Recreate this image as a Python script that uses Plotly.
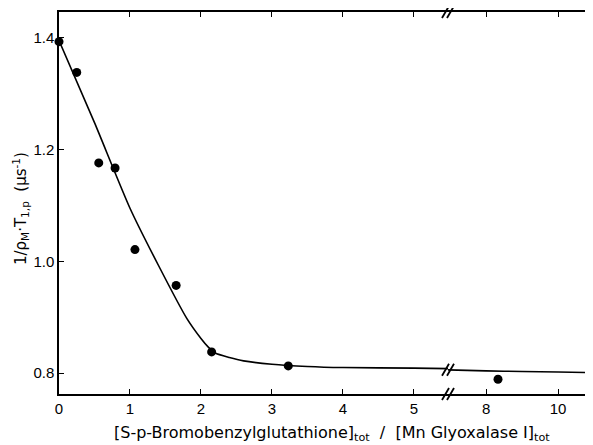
import plotly.graph_objects as go

# Measured points
pts_x_left = [0.0, 0.25, 0.56, 0.79, 1.07, 1.65, 2.15, 3.23]
pts_y_left = [1.393, 1.338, 1.176, 1.167, 1.021, 0.957, 0.838, 0.813]
pts_x_right = [8.33, 10.92]
pts_y_right = [0.789, 0.800]

# Fitted curve
curve_x_left = [0.0, 0.5, 1.0, 1.4, 1.8, 2.0, 2.1, 2.2, 2.4, 2.6, 3.0, 3.5, 4.0, 5.0, 5.5]
curve_y_left = [1.395, 1.248, 1.095, 0.993, 0.898, 0.862, 0.847, 0.836, 0.828, 0.822, 0.816, 0.812, 0.810, 0.809, 0.808]
curve_x_right = [6.9, 8.0, 9.0, 10.0, 11.0]
curve_y_right = [0.806, 0.804, 0.803, 0.802, 0.801]

x_ticks_left = [0, 1, 2, 3, 4, 5]
x_ticks_right = [8, 10]
y_ticks = [0.8, 1.0, 1.2, 1.4]
y_ticktext = ["0.8", "1.0", "1.2", "1.4"]

FONT = "Liberation Sans"
TITLE_FONT = "DejaVu Sans"
# the page body has an 8px margin; compensate so the plot lands where the reference has it
OFF = 8
W, H = 593 - OFF, 445 - OFF
ML, MR, MT = 59 - OFF, 0, 12 - OFF
MB = H - (394 - OFF)
PW = W - ML - MR
split = (448 - OFF - ML) / PW

fig = go.Figure()
line_style = dict(color="black", width=1.6, shape="spline", smoothing=0.6)
mk = dict(color="black", size=9)

fig.add_trace(go.Scatter(x=curve_x_left, y=curve_y_left, mode="lines", line=line_style,
                         xaxis="x", yaxis="y", showlegend=False, hoverinfo="skip"))
fig.add_trace(go.Scatter(x=pts_x_left, y=pts_y_left, mode="markers", marker=mk,
                         xaxis="x", yaxis="y", showlegend=False, cliponaxis=False))
fig.add_trace(go.Scatter(x=curve_x_right, y=curve_y_right, mode="lines", line=line_style,
                         xaxis="x2", yaxis="y", showlegend=False, hoverinfo="skip"))
fig.add_trace(go.Scatter(x=pts_x_right, y=pts_y_right, mode="markers", marker=mk,
                         xaxis="x2", yaxis="y", showlegend=False))

axis_common = dict(showgrid=False, zeroline=False, showline=True, linecolor="black",
                   linewidth=1.5, ticks="inside", ticklen=5, tickwidth=1.2,
                   tickcolor="black", mirror="ticks",
                   tickfont=dict(family=FONT, size=15, color="black"))

fig.update_layout(
    width=W, height=H,
    margin=dict(l=ML, r=MR, t=MT, b=MB, autoexpand=False),
    paper_bgcolor="white", plot_bgcolor="white",
    xaxis=dict(domain=[0, split], range=[0, 5.48], tickvals=x_ticks_left,
               anchor="y", **axis_common),
    xaxis2=dict(domain=[split, 1], range=[6.94, 10.97], tickvals=x_ticks_right,
                anchor="y", **axis_common),
    yaxis=dict(range=[0.7627, 1.446], tickvals=y_ticks, ticktext=y_ticktext,
               anchor="x", **{k: v for k, v in axis_common.items() if k != "mirror"}),
)

# axis break marks: two steep parallel strokes
shapes = []
for yv, yr in [(0, "paper"), (1, "paper"), (0.806, "y")]:
    for dx in (-2.5, 2.5):
        shapes.append(dict(type="line", xref="paper", yref=yr,
                           xsizemode="pixel", ysizemode="pixel",
                           xanchor=split, yanchor=yv,
                           x0=dx - 3.5, x1=dx + 3.5, y0=-6, y1=6,
                           line=dict(color="black", width=1.8)))
fig.update_layout(shapes=shapes)

fig.add_annotation(x=(332 - OFF - ML) / PW, y=0, xref="paper", yref="paper", yanchor="top",
                   yshift=-27, showarrow=False,
                   text="[S-p-Bromobenzylglutathione]<sub>tot</sub>  /  [Mn Glyoxalase I]<sub>tot</sub>",
                   font=dict(family=TITLE_FONT, size=16, color="black"))
fig.add_annotation(x=0, y=0.5, xref="paper", yref="paper", xanchor="center", yanchor="middle",
                   xshift=-(59 - 20), yshift=-6, textangle=-90, showarrow=False,
                   text="1/ρ<sub>M</sub>·T<sub>1,p</sub>  (μs<sup>-1</sup>)",
                   font=dict(family=TITLE_FONT, size=15, color="black"))

fig.write_html("out.html")
